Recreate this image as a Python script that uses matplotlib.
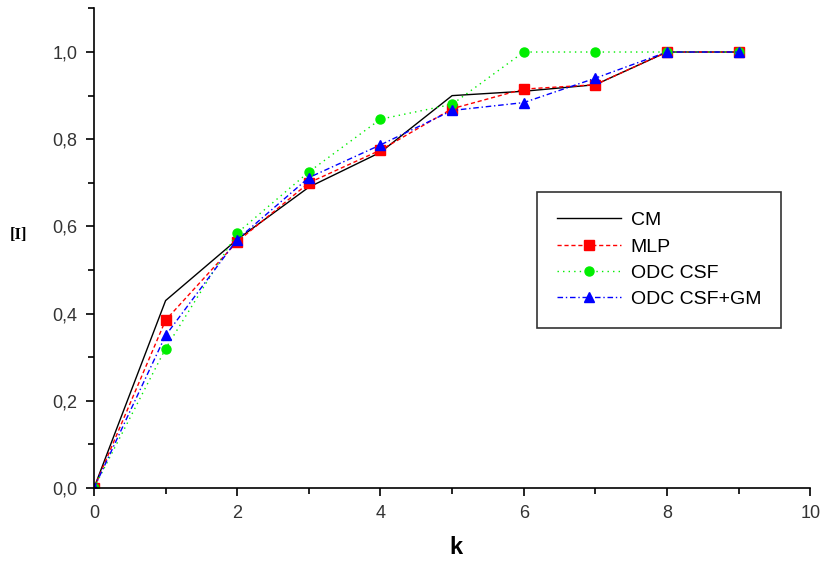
import matplotlib
matplotlib.use("Agg")
import matplotlib.pyplot as plt
from matplotlib.ticker import MultipleLocator, FuncFormatter

plt.rcParams['font.family'] = ['Liberation Sans', 'DejaVu Sans']

k = [0, 1, 2, 3, 4, 5, 6, 7, 8, 9]
cm = [0.0, 0.43, 0.57, 0.69, 0.77, 0.90, 0.91, 0.925, 1.0, 1.0]
mlp = [0.0, 0.385, 0.565, 0.70, 0.775, 0.87, 0.915, 0.925, 1.0, 1.0]
odc_csf = [0.0, 0.32, 0.585, 0.725, 0.846, 0.88, 1.0, 1.0, 1.0, 1.0]
odc_csf_gm = [0.0, 0.35, 0.57, 0.712, 0.787, 0.866, 0.884, 0.94, 1.0, 1.0]

fig = plt.figure(figsize=(8.28, 5.61), dpi=100)
ax = fig.add_axes([0.1135, 0.130, 0.865, 0.855])

ax.plot(k, cm, color='black', lw=1.0, label='CM')
ax.plot(k, mlp, color='#ff0000', lw=1.0, ls=(0, (3, 2)), marker='s',
        ms=6.5, mec='#ff0000', mfc='#ff0000', label='MLP')
ax.plot(k, odc_csf, color='#00ee00', lw=1.0, ls=(0, (1, 3)), marker='o',
        ms=6.5, mec='#00ee00', mfc='#00ee00', label='ODC CSF')
ax.plot(k, odc_csf_gm, color='#0000ff', lw=1.0, ls=(0, (4, 2, 1, 2)), marker='^',
        ms=7.5, mec='#0000ff', mfc='#0000ff', label='ODC CSF+GM')

ax.set_xlim(0, 10)
ax.set_ylim(0, 1.1)
ax.xaxis.set_major_locator(MultipleLocator(2))
ax.xaxis.set_minor_locator(MultipleLocator(1))
ax.yaxis.set_major_locator(MultipleLocator(0.2))
ax.yaxis.set_minor_locator(MultipleLocator(0.1))
ax.yaxis.set_major_formatter(FuncFormatter(lambda v, p: f"{v:.1f}".replace('.', ',')))
ax.xaxis.set_major_formatter(FuncFormatter(lambda v, p: f"{int(round(v))}"))

for s in ('top', 'right'):
    ax.spines[s].set_visible(False)
for s in ('left', 'bottom'):
    ax.spines[s].set_linewidth(1.2)

ax.tick_params(which='major', direction='out', length=6, width=1.2,
               labelsize=13, colors='black', labelcolor='#333333', pad=6)
ax.tick_params(which='minor', direction='out', length=4, width=1.2)

ax.set_xlabel('k', fontsize=17, fontweight='bold')
ax.xaxis.set_label_coords(0.505, -0.100)
ax.set_ylabel('[I]', fontsize=12, fontweight='bold', rotation=0,
              family=['Liberation Serif', 'DejaVu Serif'])
ax.yaxis.set_label_coords(-0.105, 0.51)

leg = ax.legend(loc='upper left', bbox_to_anchor=(0.619, 0.617),
                fontsize=14, frameon=True, fancybox=False, borderaxespad=0,
                edgecolor='black', handlelength=3.3, borderpad=1.0,
                labelspacing=0.45, handletextpad=0.5)
leg.get_frame().set_linewidth(1.2)

fig.savefig('out.png', dpi=100)
